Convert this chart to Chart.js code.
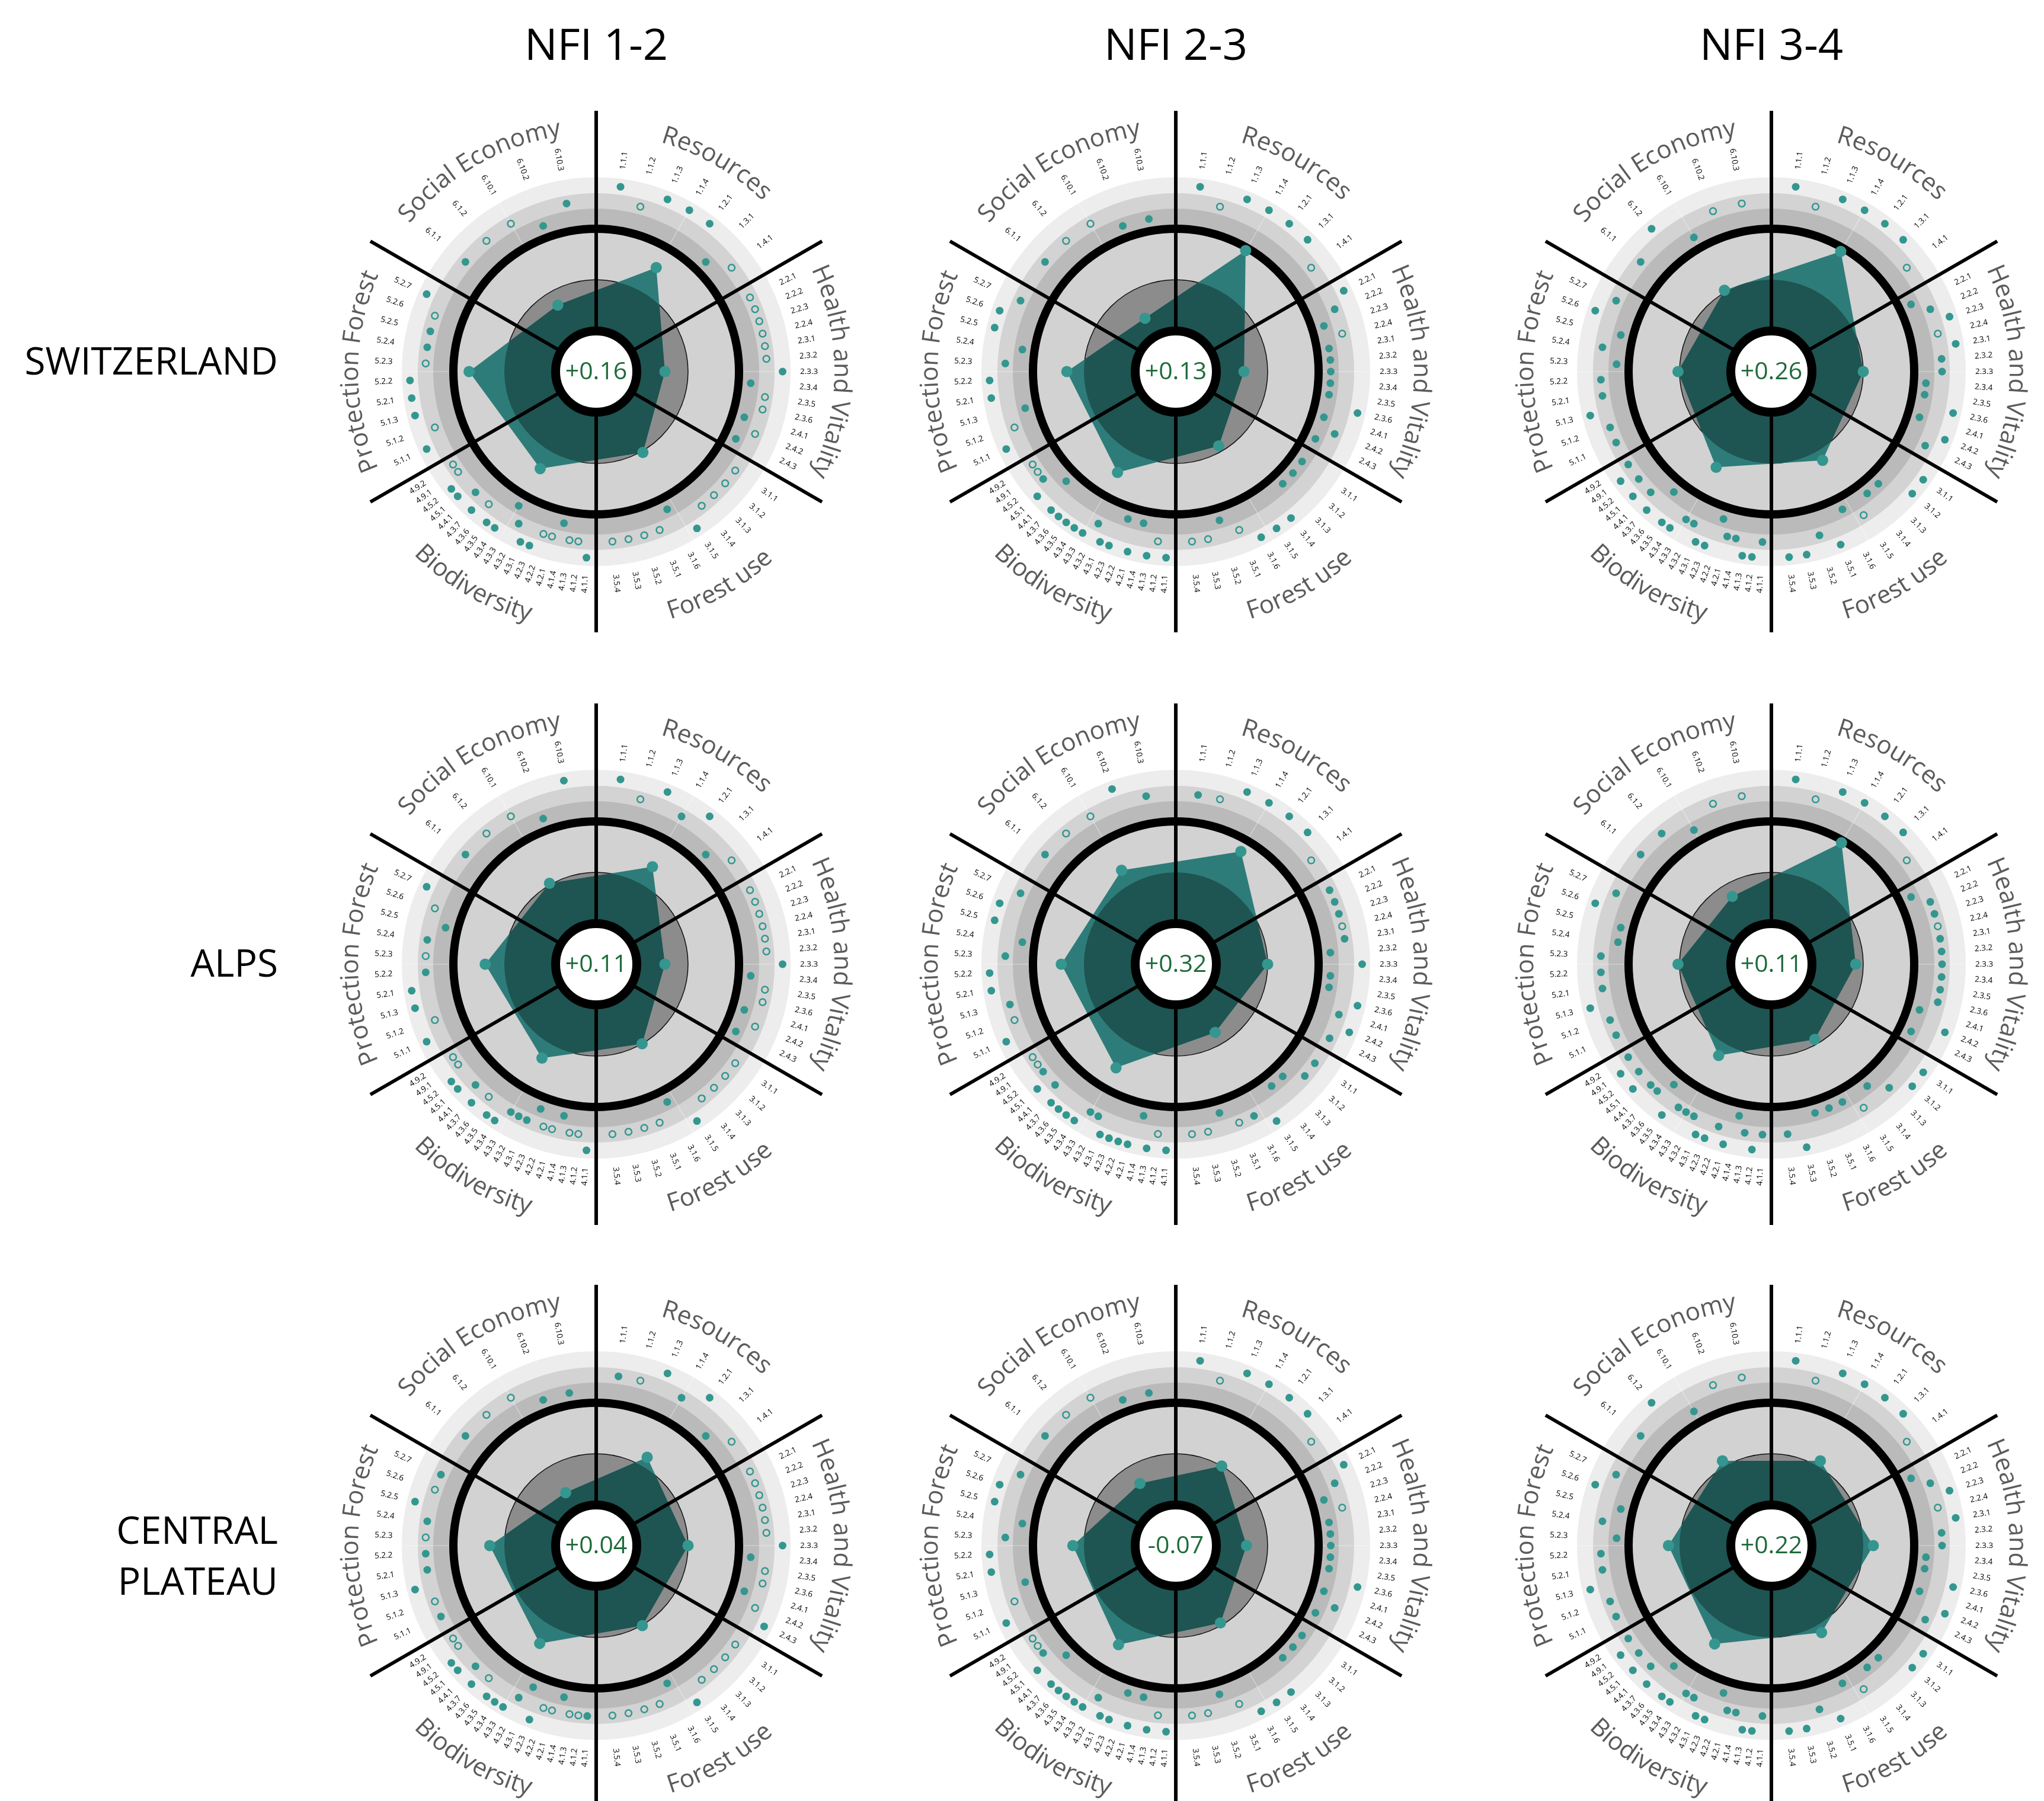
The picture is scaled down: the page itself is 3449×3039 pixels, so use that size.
<!DOCTYPE html>
<html>
<head>
<meta charset="utf-8">
<title>Forest sustainability wheels</title>
<script src="https://cdn.jsdelivr.net/npm/chart.js@4.4.1/dist/chart.umd.min.js"></script>
<style>
  html, body { margin: 0; padding: 0; background: #ffffff; }
  #page { position: relative; width: 3449px; height: 3039px; overflow: hidden; font-family: "Open Sans", sans-serif; }
  .period { position: absolute; top: 36px; font-size: 74px; line-height: 74px; color: #000; transform: translateX(-50%); white-space: nowrap; }
  .region { position: absolute; right: 2980px; font-size: 64px; line-height: 86px; color: #000; text-align: right; white-space: nowrap; }
  canvas { position: absolute; }
</style>
</head>
<body>
<div id="page"></div>
<script>
// ---------------- data ----------------
const periods = ['NFI 1-2', 'NFI 2-3', 'NFI 3-4'];
const regions = ['SWITZERLAND', 'ALPS', 'CENTRAL\nPLATEAU'];
const themes = ['Resources', 'Health and Vitality', 'Forest use', 'Biodiversity', 'Protection Forest', 'Social Economy'];

const indicators = [
  ['1.1.1', '1.1.2', '1.1.3', '1.1.4', '1.2.1', '1.3.1', '1.4.1'],
  ['2.2.1', '2.2.2', '2.2.3', '2.2.4', '2.3.1', '2.3.2', '2.3.3', '2.3.4', '2.3.5', '2.3.6', '2.4.1', '2.4.2', '2.4.3'],
  ['3.1.1', '3.1.2', '3.1.3', '3.1.4', '3.1.5', '3.1.6', '3.5.1', '3.5.2', '3.5.3', '3.5.4'],
  ['4.1.1', '4.1.2', '4.1.3', '4.1.4', '4.2.1', '4.2.2', '4.2.3', '4.3.1', '4.3.2', '4.3.3', '4.3.4', '4.3.5', '4.3.6', '4.3.7', '4.4.1', '4.5.1', '4.5.2', '4.9.1', '4.9.2'],
  ['5.1.1', '5.1.2', '5.1.3', '5.2.1', '5.2.2', '5.2.3', '5.2.4', '5.2.5', '5.2.6', '5.2.7'],
  ['6.1.1', '6.1.2', '6.10.1', '6.10.2', '6.10.3']
];

// overall index written in the centre of each wheel (NFI 1-2, 2-3, 3-4)
const overallSwitzerland = [0.16, 0.13, 0.26];
const overallAlps = [0.11, 0.32, 0.11];
const overallPlateau = [0.04, -0.07, 0.22];

// theme scores (-1 … +1) in theme order
const themeSwitzerland = [
  [0.56, -0.46, 0.03, 0.40, 0.70, -0.30],
  [0.95, -0.47, -0.12, 0.49, 0.34, -0.60],
  [0.93, 0.00, 0.21, 0.37, 0.03, 0.04]
];
const themeAlps = [
  [0.41, -0.46, 0.00, 0.33, 0.38, 0.03],
  [0.76, 0.00, -0.26, 0.55, 0.45, 0.33],
  [0.96, -0.15, -0.10, 0.27, 0.03, -0.27]
];
const themePlateau = [
  [0.20, 0.00, 0.01, 0.42, 0.29, -0.61],
  [0.00, -0.42, -0.05, 0.45, 0.22, -0.40],
  [0.12, 0.20, 0.17, 0.43, 0.22, 0.12]
];

// indicator trends per theme: '+' increase, '-' decrease, '=' stable, 'o' not significant
const trendSwitzerland12 = ['+o+++-o', 'oooooo+-oo-o-', 'oooo+-oooo', '+oo-oo++=-++o+=++oo', '+o+++o==o+', '=oo-='];
const trendSwitzerland23 = ['+o++++o', '+=-o-----+-=-', '---+++o-oo', '+o+-+-++=+++++-+=oo', '+o-++=-++=', '=oo--'];
const trendSwitzerland34 = ['+o++++o', '-=+o+==--+-+=', '++--o-+=++', '=++==-++==++-+=+=+=', '==+==-=-+=', '=+-oo'];
const trendAlps12 = ['+o+=+-o', 'oooooo+-oo-o-', 'oooo+-oooo', '+oo-oo-===++o+=++oo', '+o++=o=-o+', '=oo-+'];
const trendAlps23 = ['=o++++o', '===o=-+--+=+=', '==--+=o-oo', '+o+-++++==++++=+=oo', '+o=++=-++=', '=oo+='];
const trendAlps34 = ['+o++++o', '-==o======-+-', '++=-o---+=', '=+=-+=++===+-==+=+=', '==+===--+=', '==-oo'];
const trendPlateau12 = ['=o+=+-o', 'oooooo+-oo-o+', 'oooo+-oooo', '=oo-oo+-=+++o+=++oo', '=o+==o=+o=', '=oo--'];
const trendPlateau23 = ['+o++++o', '+=-o-----+-=-', '---+++o-oo', '+o+-+-++=+++++-+=oo', '+o-++=-++=', '=oo--'];
const trendPlateau34 = ['+o++++o', '-=+o+==--+-+=', '++--o-+=++', '=++==-++==++-+=+=+=', '==+==-=-+=', '=+-oo'];

// ---------------- layout & style ----------------
const COL_X = [1006, 1984, 2989];
const ROW_Y = [627, 1627, 2608];
const REGION_TOP = [565, 1581, 2538];
const HALF = 450;                         // half size of each wheel canvas (axis units = px)
const DOT_RADIUS = { '-1': 261.5, '0': 288, '1': 314.5 };
const SCORE_ZERO = 155, SCORE_UNIT = 85;  // radius of score 0 and length of one score unit
const TEAL = '#33978f';

const deg = Math.PI / 180;
const level = ch => (ch === '+' ? 1 : ch === '-' ? -1 : 0);
const indicatorAngle = (s, i, n) => (60 * s + 60 * (i + 1) / (n + 1)) * deg;
const themeAngle = s => (60 * s + 30) * deg;
const polar = (r, a) => ({ x: r * Math.sin(a), y: r * Math.cos(a) });

function geometry(chart) {
  const sx = chart.scales.x, sy = chart.scales.y;
  const cx = sx.getPixelForValue(0), cy = sy.getPixelForValue(0);
  const k = sx.getPixelForValue(1) - cx;
  return { cx, cy, k, at: (r, a) => [cx + r * k * Math.sin(a), cy - r * k * Math.cos(a)] };
}

function arcText(ctx, text, g, r, centre, outward) {
  const total = ctx.measureText(text).width;
  const rad = r * g.k;
  let acc = 0;
  for (const ch of text) {
    const w = ctx.measureText(ch).width;
    const off = (acc + w / 2 - total / 2) / rad;
    const a = outward ? centre + off : centre - off;
    const [x, y] = g.at(r, a);
    ctx.save();
    ctx.translate(x, y);
    ctx.rotate(outward ? a : a + Math.PI);
    ctx.fillText(ch, 0, 0);
    ctx.restore();
    acc += w;
  }
}

const wheelPlugin = {
  id: 'wheel',
  beforeDatasetsDraw(chart) {
    const g = geometry(chart), ctx = chart.ctx;
    ctx.save();
    // concentric bands
    [[328, '#ededed'], [301, '#d3d3d3'], [275, '#bababa'], [248, '#d2d2d2'], [SCORE_ZERO, '#8c8c8c']].forEach(([r, c]) => {
      ctx.beginPath(); ctx.arc(g.cx, g.cy, r * g.k, 0, 2 * Math.PI); ctx.fillStyle = c; ctx.fill();
    });
    // faint seams between band halves
    ctx.strokeStyle = 'rgba(255,255,255,0.45)'; ctx.lineWidth = 1.2;
    for (let s = 0; s < 6; s++) {
      const a = themeAngle(s);
      ctx.beginPath(); ctx.moveTo(...g.at(248, a)); ctx.lineTo(...g.at(328, a)); ctx.stroke();
    }
    // zero circle
    ctx.beginPath(); ctx.arc(g.cx, g.cy, SCORE_ZERO * g.k, 0, 2 * Math.PI);
    ctx.lineWidth = 1.5; ctx.strokeStyle = '#111'; ctx.stroke();

    // indicator codes
    ctx.font = '13.5px "Open Sans"'; ctx.fillStyle = '#000'; ctx.textBaseline = 'middle';
    indicators.forEach((codes, s) => codes.forEach((code, i) => {
      const a = indicatorAngle(s, i, codes.length);
      ctx.save(); ctx.translate(g.cx, g.cy);
      if (a < Math.PI) { ctx.rotate(a - Math.PI / 2); ctx.textAlign = 'left'; ctx.fillText(code, 344 * g.k, 0); }
      else { ctx.rotate(a + Math.PI / 2); ctx.textAlign = 'right'; ctx.fillText(code, -344 * g.k, 0); }
      ctx.restore();
    }));

    // theme names along the rim
    ctx.font = '42px "Open Sans"'; ctx.fillStyle = '#5b5b5b'; ctx.textAlign = 'center'; ctx.textBaseline = 'alphabetic';
    themes.forEach((name, s) => {
      const bottom = s === 2 || s === 3;
      arcText(ctx, name, g, bottom ? 436 : 402, themeAngle(s), !bottom);
    });
    ctx.restore();
  },
  beforeDatasetDraw(chart, args) {
    if (chart.data.datasets[args.index].label !== 'themeCore') return;
    const g = geometry(chart), ctx = chart.ctx;
    ctx.save();
    ctx.beginPath(); ctx.arc(g.cx, g.cy, SCORE_ZERO * g.k, 0, 2 * Math.PI); ctx.clip();
  },
  afterDatasetDraw(chart, args) {
    if (chart.data.datasets[args.index].label !== 'themeCore') return;
    const g = geometry(chart), ctx = chart.ctx;
    ctx.restore();
    ctx.save();
    // score +1 ring
    ctx.beginPath(); ctx.arc(g.cx, g.cy, 241 * g.k, 0, 2 * Math.PI);
    ctx.lineWidth = 14 * g.k; ctx.strokeStyle = '#000'; ctx.stroke();
    // theme separators
    ctx.lineWidth = 6 * g.k; ctx.lineCap = 'butt';
    for (let s = 0; s < 6; s++) {
      const a = 60 * s * deg;
      ctx.beginPath(); ctx.moveTo(...g.at(70, a)); ctx.lineTo(...g.at(440, a)); ctx.stroke();
    }
    ctx.restore();
  },
  afterDatasetsDraw(chart, args, opts) {
    const g = geometry(chart), ctx = chart.ctx;
    ctx.save();
    ctx.beginPath(); ctx.arc(g.cx, g.cy, 68.5 * g.k, 0, 2 * Math.PI);
    ctx.fillStyle = '#ffffff'; ctx.fill();
    ctx.lineWidth = 15 * g.k; ctx.strokeStyle = '#000'; ctx.stroke();
    const v = opts.overall;
    const txt = (v > 0 ? '+' : v < 0 ? '-' : '') + Math.abs(v).toFixed(2);
    ctx.font = '41px "Open Sans"'; ctx.fillStyle = '#1f6b3b';
    ctx.textAlign = 'center'; ctx.textBaseline = 'middle';
    ctx.fillText(txt, g.cx, g.cy + 1);
    ctx.restore();
  }
};

// the wheel plugin must run its dataset hooks before the area filler, so it is registered ahead of it
const filler = Chart.registry.getPlugin('filler');
Chart.unregister(filler);
Chart.register(wheelPlugin);
Chart.register(filler);

function buildWheel(canvas, overall, scores, trends) {
  const significant = [], notSignificant = [];
  indicators.forEach((codes, s) => codes.forEach((code, i) => {
    const mark = trends[s][i];
    const p = polar(DOT_RADIUS[level(mark)], indicatorAngle(s, i, codes.length));
    (mark === 'o' ? notSignificant : significant).push(p);
  }));
  const shape = scores.map((v, s) => polar(SCORE_ZERO + SCORE_UNIT * v, themeAngle(s)));
  const outline = shape.concat([shape[0]]);

  return new Chart(canvas, {
    type: 'scatter',
    data: {
      datasets: [
        { type: 'line', label: 'themeArea', data: outline, fill: 'shape', backgroundColor: '#2e7c79',
          borderColor: 'rgba(0,0,0,0)', borderWidth: 0, pointRadius: 0, tension: 0, order: 10 },
        { type: 'line', label: 'themeCore', data: outline, fill: 'shape', backgroundColor: '#1e5451',
          borderColor: 'rgba(0,0,0,0)', borderWidth: 0, pointRadius: 0, tension: 0, order: 9 },
        { label: 'significant', data: significant, pointRadius: 6.5, backgroundColor: TEAL, borderWidth: 0, order: 3 },
        { label: 'notSignificant', data: notSignificant, pointRadius: 5.5, backgroundColor: 'rgba(0,0,0,0)',
          borderColor: TEAL, borderWidth: 2.5, order: 2 },
        { label: 'themeScore', data: shape, pointRadius: 9.5, backgroundColor: '#35968f', borderWidth: 0, order: 1 }
      ]
    },
    options: {
      responsive: false, animation: false, events: [], devicePixelRatio: 1,
      layout: { padding: 0, autoPadding: false },
      scales: {
        x: { type: 'linear', min: -HALF, max: HALF, display: false },
        y: { type: 'linear', min: -HALF, max: HALF, display: false }
      },
      plugins: { legend: { display: false }, tooltip: { enabled: false }, wheel: { overall } }
    }
  });
}

// ---------------- page ----------------
const page = document.getElementById('page');
periods.forEach((p, c) => {
  const d = document.createElement('div');
  d.className = 'period'; d.textContent = p; d.style.left = COL_X[c] + 'px';
  page.appendChild(d);
});
regions.forEach((name, r) => {
  const d = document.createElement('div');
  d.className = 'region';
  name.split('\n').forEach((t, i) => { if (i) d.appendChild(document.createElement('br')); d.appendChild(document.createTextNode(t)); });
  d.style.top = REGION_TOP[r] + 'px';
  page.appendChild(d);
});

const overallRows = [overallSwitzerland, overallAlps, overallPlateau];
const themeRows = [themeSwitzerland, themeAlps, themePlateau];
const trendRows = [
  [trendSwitzerland12, trendSwitzerland23, trendSwitzerland34],
  [trendAlps12, trendAlps23, trendAlps34],
  [trendPlateau12, trendPlateau23, trendPlateau34]
];

for (let r = 0; r < 3; r++) {
  for (let c = 0; c < 3; c++) {
    const cv = document.createElement('canvas');
    cv.width = 2 * HALF; cv.height = 2 * HALF;
    cv.style.left = (COL_X[c] - HALF) + 'px';
    cv.style.top = (ROW_Y[r] - HALF) + 'px';
    page.appendChild(cv);
    buildWheel(cv, overallRows[r][c], themeRows[r][c], trendRows[r][c]);
  }
}
</script>
</body>
</html>
